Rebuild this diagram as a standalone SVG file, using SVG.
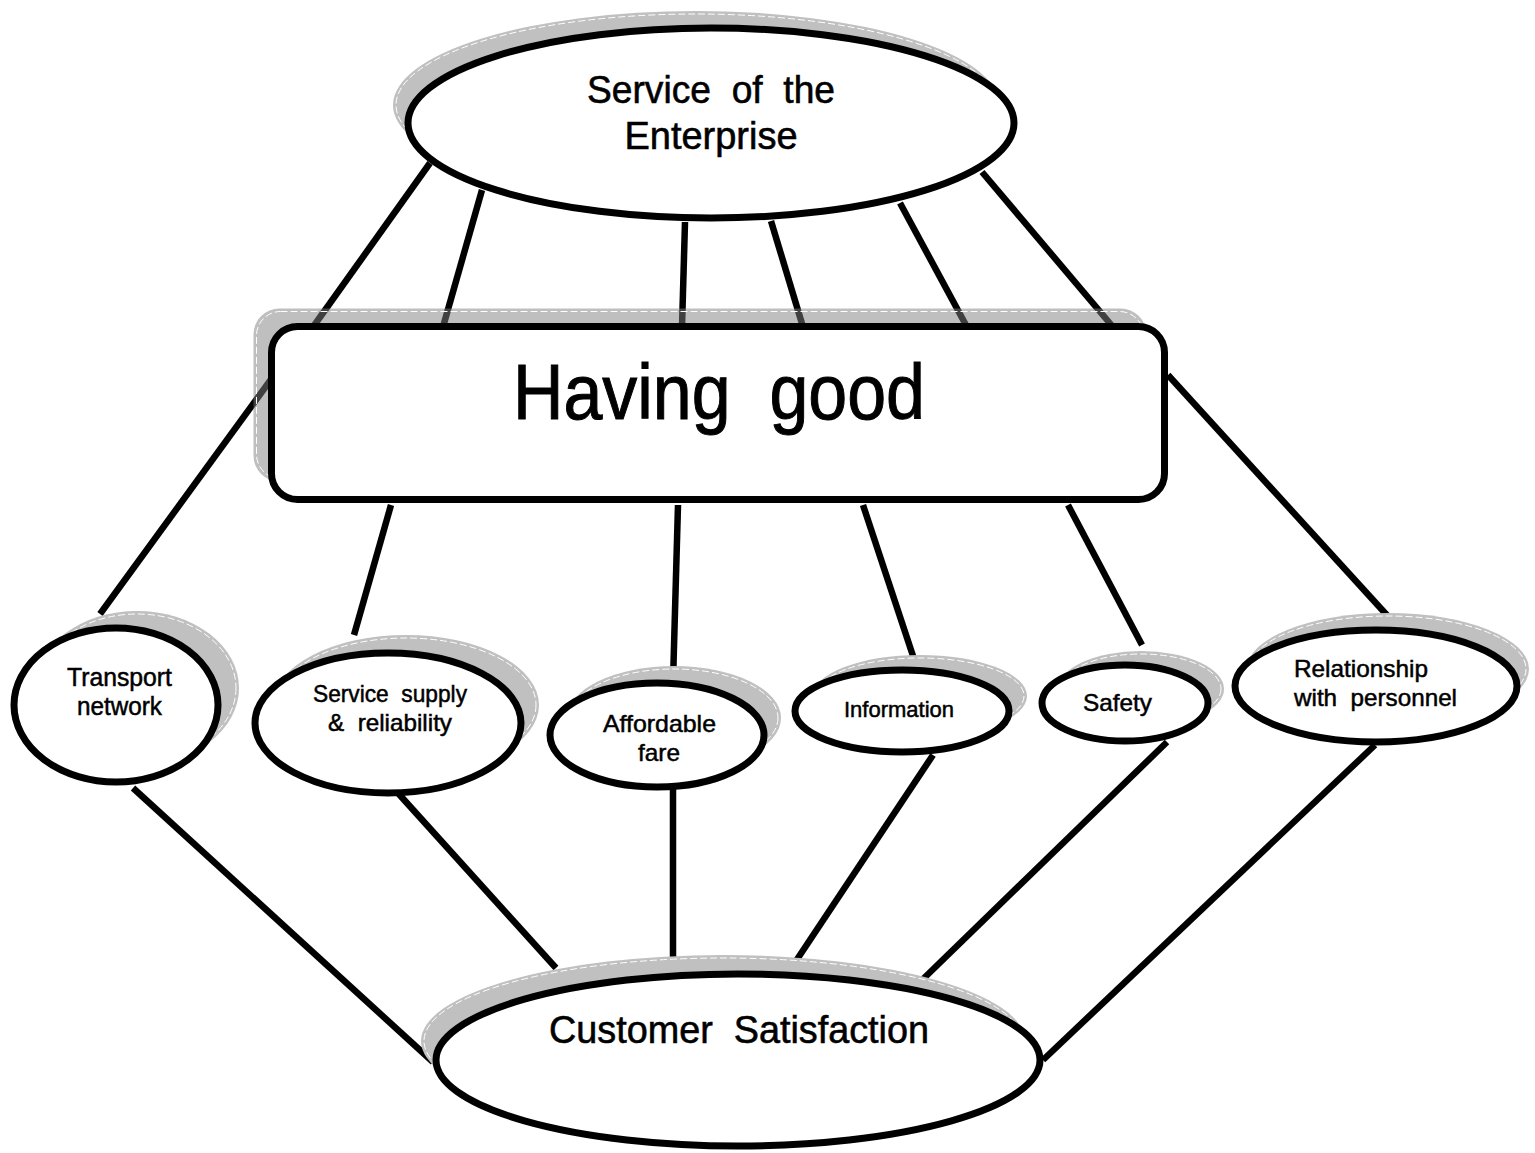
<svg xmlns="http://www.w3.org/2000/svg" width="1535" height="1153" viewBox="0 0 1535 1153">
  <style>
    .edge { stroke: #000; stroke-width: 6.5; stroke-linecap: butt; fill: none; }
    .shadow { fill: #c0c0c0; stroke: none; }
    .shadow-line { fill: none; stroke: #fff; stroke-width: 1; stroke-dasharray: 7 3; }
    .shape { fill: #fff; stroke: #000; stroke-width: 7; }
    .label { font-family: "Liberation Sans", Arial, sans-serif; fill: #000; white-space: pre; }
    .small { stroke: #000; stroke-width: 0.5; }
    .medium { stroke: #000; stroke-width: 0.6; }
    .large { stroke: #000; stroke-width: 1; }
  </style>
  <rect width="1535" height="1153" fill="#fff"/>

  <!-- connectors -->
  <g id="connectors">
    <!-- Service of the Enterprise to Having good -->
    <line class="edge" x1="430" y1="163" x2="313" y2="327"/>
    <line class="edge" x1="482" y1="190" x2="443" y2="327"/>
    <line class="edge" x1="685" y1="222" x2="682" y2="327"/>
    <line class="edge" x1="771" y1="221" x2="803" y2="327"/>
    <line class="edge" x1="900" y1="203" x2="967" y2="327"/>
    <line class="edge" x1="982" y1="172" x2="1113" y2="327"/>
    <!-- Having good to the six qualities -->
    <line class="edge" x1="272" y1="378" x2="100" y2="614"/>
    <line class="edge" x1="391" y1="505" x2="354" y2="635"/>
    <line class="edge" x1="678" y1="505" x2="673" y2="682"/>
    <line class="edge" x1="863" y1="505" x2="916" y2="665"/>
    <line class="edge" x1="1068" y1="505" x2="1142" y2="645"/>
    <line class="edge" x1="1168" y1="375" x2="1395" y2="624"/>
    <!-- the six qualities to Customer Satisfaction -->
    <line class="edge" x1="133" y1="788" x2="433" y2="1062"/>
    <line class="edge" x1="397" y1="792" x2="556" y2="968"/>
    <line class="edge" x1="673" y1="788" x2="673" y2="972"/>
    <line class="edge" x1="933" y1="755" x2="790" y2="970"/>
    <line class="edge" x1="1167" y1="742" x2="920" y2="982"/>
    <line class="edge" x1="1375" y1="745" x2="1043" y2="1060"/>
  </g>

  <g id="enterprise">
    <ellipse class="shadow" cx="696" cy="105" rx="303" ry="94"/>
    <ellipse class="shadow-line" cx="696" cy="105" rx="300" ry="91"/>
    <ellipse class="shape" cx="711" cy="123" rx="303" ry="95"/>
    <text class="label medium" x="711" y="103" font-size="39" text-anchor="middle" textLength="248" lengthAdjust="spacingAndGlyphs" xml:space="preserve">Service  of  the</text>
    <text class="label medium" x="711" y="149" font-size="39" text-anchor="middle" textLength="173" lengthAdjust="spacingAndGlyphs">Enterprise</text>
  </g>

  <g id="having-good">
    <rect x="253.5" y="308.5" width="893" height="173" rx="26" fill="#808080" fill-opacity="0.5"/>
    <rect class="shadow-line" x="256.5" y="311.5" width="887" height="167" rx="24"/>
    <rect class="shape" x="271.5" y="326.5" width="893" height="173" rx="26"/>
    <text class="label large" x="719" y="419" font-size="77" text-anchor="middle" textLength="412" lengthAdjust="spacingAndGlyphs" xml:space="preserve">Having  good</text>
  </g>

  <g id="transport-network">
    <ellipse class="shadow" cx="137" cy="688" rx="102" ry="77"/>
    <ellipse class="shadow-line" cx="137" cy="688" rx="99" ry="74"/>
    <ellipse class="shape" cx="116" cy="705" rx="102" ry="77"/>
    <text class="label small" x="119.5" y="686" font-size="25" text-anchor="middle" textLength="105" lengthAdjust="spacingAndGlyphs">Transport</text>
    <text class="label small" x="119.5" y="715" font-size="25" text-anchor="middle" textLength="85" lengthAdjust="spacingAndGlyphs">network</text>
  </g>

  <g id="service-supply">
    <ellipse class="shadow" cx="406" cy="705" rx="133" ry="70"/>
    <ellipse class="shadow-line" cx="406" cy="705" rx="130" ry="67"/>
    <ellipse class="shape" cx="388" cy="723" rx="133" ry="70"/>
    <text class="label small" x="390" y="702" font-size="24" text-anchor="middle" textLength="154" lengthAdjust="spacingAndGlyphs" xml:space="preserve">Service  supply</text>
    <text class="label small" x="390" y="731" font-size="24" text-anchor="middle" textLength="124" lengthAdjust="spacingAndGlyphs" xml:space="preserve">&amp;  reliability</text>
  </g>

  <g id="affordable-fare">
    <ellipse class="shadow" cx="674" cy="718" rx="107" ry="52"/>
    <ellipse class="shadow-line" cx="674" cy="718" rx="104" ry="49"/>
    <ellipse class="shape" cx="657" cy="735" rx="107" ry="52"/>
    <text class="label small" x="659.5" y="732" font-size="24" text-anchor="middle" textLength="113" lengthAdjust="spacingAndGlyphs">Affordable</text>
    <text class="label small" x="659" y="761" font-size="24" text-anchor="middle" textLength="42" lengthAdjust="spacingAndGlyphs">fare</text>
  </g>

  <g id="information">
    <ellipse class="shadow" cx="920" cy="696" rx="107" ry="41"/>
    <ellipse class="shadow-line" cx="920" cy="696" rx="104" ry="38"/>
    <ellipse class="shape" cx="902" cy="711" rx="107" ry="41"/>
    <text class="label small" x="899" y="717" font-size="22" text-anchor="middle" textLength="110" lengthAdjust="spacingAndGlyphs">Information</text>
  </g>

  <g id="safety">
    <ellipse class="shadow" cx="1141" cy="689" rx="83" ry="38"/>
    <ellipse class="shadow-line" cx="1141" cy="689" rx="80" ry="35"/>
    <ellipse class="shape" cx="1125" cy="703" rx="83" ry="38"/>
    <text class="label small" x="1117.5" y="711" font-size="24" text-anchor="middle" textLength="69" lengthAdjust="spacingAndGlyphs">Safety</text>
  </g>

  <g id="relationship">
    <ellipse class="shadow" cx="1388" cy="669" rx="141" ry="56"/>
    <ellipse class="shadow-line" cx="1388" cy="669" rx="138" ry="53"/>
    <ellipse class="shape" cx="1376" cy="686" rx="141" ry="56"/>
    <text class="label small" x="1294" y="677" font-size="24" textLength="134" lengthAdjust="spacingAndGlyphs">Relationship</text>
    <text class="label small" x="1294" y="706" font-size="24" textLength="163" lengthAdjust="spacingAndGlyphs" xml:space="preserve">with  personnel</text>
  </g>

  <g id="customer-satisfaction">
    <ellipse class="shadow" cx="723" cy="1041" rx="302" ry="86"/>
    <ellipse class="shadow-line" cx="723" cy="1041" rx="299" ry="83"/>
    <ellipse class="shape" cx="738" cy="1060" rx="302" ry="86"/>
    <text class="label medium" x="739" y="1043" font-size="39" text-anchor="middle" textLength="380" lengthAdjust="spacingAndGlyphs" xml:space="preserve">Customer  Satisfaction</text>
  </g>
</svg>
